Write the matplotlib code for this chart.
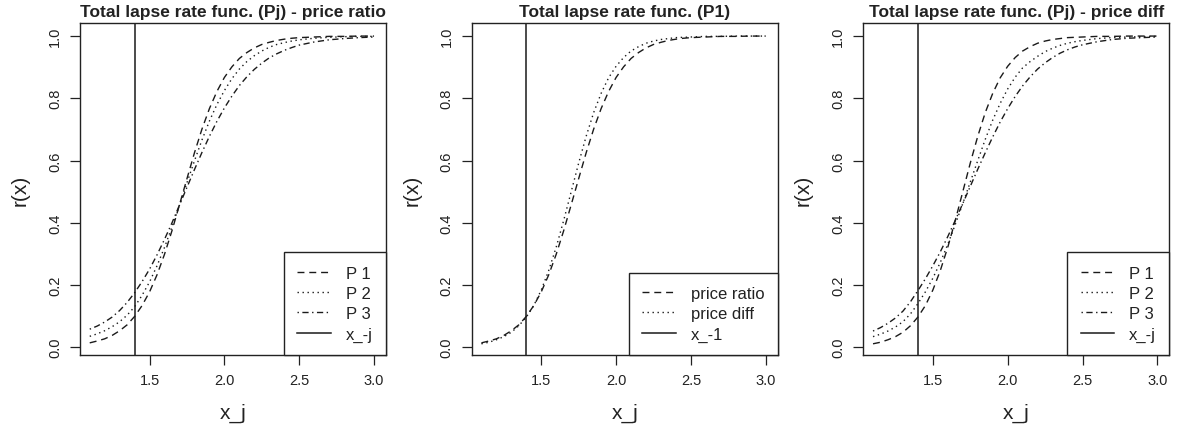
#!/usr/bin/env python3

import numpy as np
from matplotlib import pyplot as plt

plt.rcParams['font.family'] = ['Liberation Sans', 'DejaVu Sans']

# x grid (price ratio x_j)
x = [1.10, 1.15, 1.20, 1.25, 1.30, 1.35, 1.40, 1.45, 1.50, 1.55, 1.60, 1.65,
     1.70, 1.75, 1.80, 1.85, 1.90, 1.95, 2.00, 2.05, 2.10, 2.15, 2.20, 2.25,
     2.30, 2.35, 2.40, 2.45, 2.50, 2.60, 2.70, 2.80, 2.90, 3.00]

# price ratio model
ratio_p1 = [0.014, 0.020, 0.027, 0.038, 0.053, 0.072, 0.099, 0.134, 0.178, 0.233,
            0.299, 0.375, 0.458, 0.542, 0.625, 0.701, 0.767, 0.822, 0.867, 0.901,
            0.928, 0.947, 0.962, 0.973, 0.980, 0.986, 0.990, 0.993, 0.995, 0.997,
            0.999, 0.999, 1.000, 1.000]
ratio_p2 = [0.035, 0.043, 0.053, 0.066, 0.082, 0.103, 0.130, 0.167, 0.210, 0.262,
            0.321, 0.387, 0.457, 0.529, 0.599, 0.666, 0.727, 0.780, 0.825, 0.863,
            0.894, 0.918, 0.937, 0.952, 0.964, 0.973, 0.979, 0.984, 0.988, 0.993,
            0.996, 0.998, 0.999, 0.999]
ratio_p3 = [0.058, 0.068, 0.081, 0.097, 0.118, 0.144, 0.175, 0.211, 0.251, 0.297,
            0.347, 0.400, 0.457, 0.514, 0.571, 0.626, 0.678, 0.726, 0.769, 0.807,
            0.841, 0.869, 0.893, 0.913, 0.930, 0.943, 0.954, 0.963, 0.971, 0.981,
            0.988, 0.992, 0.995, 0.997]

# price diff model
diff_p1 = [0.011, 0.016, 0.024, 0.034, 0.048, 0.069, 0.097, 0.134, 0.184, 0.247,
           0.322, 0.408, 0.500, 0.592, 0.678, 0.754, 0.816, 0.866, 0.903, 0.931,
           0.952, 0.966, 0.977, 0.984, 0.989, 0.992, 0.995, 0.996, 0.997, 0.999,
           0.999, 1.000, 1.000, 1.000]
diff_p2 = [0.034, 0.042, 0.052, 0.065, 0.082, 0.107, 0.140, 0.178, 0.222, 0.273,
           0.331, 0.395, 0.462, 0.531, 0.600, 0.668, 0.730, 0.784, 0.830, 0.868,
           0.898, 0.918, 0.935, 0.950, 0.961, 0.970, 0.977, 0.982, 0.986, 0.992,
           0.995, 0.997, 0.998, 0.999]
diff_p3 = [0.052, 0.063, 0.077, 0.094, 0.116, 0.146, 0.182, 0.220, 0.262, 0.307,
           0.356, 0.408, 0.462, 0.517, 0.572, 0.625, 0.676, 0.724, 0.767, 0.806,
           0.840, 0.869, 0.894, 0.914, 0.931, 0.945, 0.956, 0.965, 0.972, 0.982,
           0.989, 0.993, 0.995, 0.997]

x_ref = 1.4

titles = ["Total lapse rate func. (Pj) - price ratio",
          "Total lapse rate func. (P1)",
          "Total lapse rate func. (Pj) - price diff"]

DASH = (0, (5.0, 3.5))
DOT = (0, (1.0, 2.6))
DOTDASH = (0, (1.0, 2.5, 4.5, 2.5))
col = '#1a1a1a'

fig = plt.figure(figsize=(11.8, 4.35), dpi=100)
lefts = [80, 471.7, 863.3]
axes = [fig.add_axes([l / 1180, (435 - 356) / 435, 306 / 1180, 332 / 435]) for l in lefts]

panels = [
    [(ratio_p1, DASH, "P 1"), (ratio_p2, DOT, "P 2"), (ratio_p3, DOTDASH, "P 3")],
    [(ratio_p1, DASH, "price ratio"), (diff_p1, DOT, "price diff")],
    [(diff_p1, DASH, "P 1"), (diff_p2, DOT, "P 2"), (diff_p3, DOTDASH, "P 3")],
]
vlabels = ["x_-j", "x_-1", "x_-j"]

for ax, series, title, vlab in zip(axes, panels, titles, vlabels):
    for ys, ls, lab in series:
        ax.plot(x, ys, color=col, lw=1.0, linestyle=ls, label=lab)
    ax.axvline(x_ref, color=col, lw=1.1, label=vlab)

    ax.set_xlim(1.035, 3.08)
    ax.set_ylim(-0.025, 1.042)
    ax.set_xticks([1.5, 2.0, 2.5, 3.0])
    ax.set_xticklabels(["1.5", "2.0", "2.5", "3.0"])
    ax.set_yticks([0.0, 0.2, 0.4, 0.6, 0.8, 1.0])
    ax.set_yticklabels(["0.0", "0.2", "0.4", "0.6", "0.8", "1.0"],
                       rotation=90, va='center')
    ax.tick_params(direction='out', length=7, width=0.9, labelsize=10.5,
                   colors='#222222', pad=6)
    for s in ax.spines.values():
        s.set_linewidth(1.0)
        s.set_color('#222222')

    ax.set_title(title, fontsize=12.5, fontweight='bold', pad=5, color='#222222')
    ax.set_xlabel("x_j", fontsize=15, color='#222222', va='center')
    ax.set_ylabel("r(x)", fontsize=15, color='#222222', va='center')
    ax.xaxis.set_label_coords(0.5, (356 - 413) / 332)
    ax.yaxis.set_label_coords((20 - 80) / 306, 0.5)

    leg = ax.legend(loc='lower right', borderaxespad=0, fontsize=12,
                    fancybox=False, edgecolor='#222222', framealpha=1,
                    handlelength=2.0, handletextpad=0.9, borderpad=0.8,
                    labelspacing=0.32)
    leg.get_frame().set_linewidth(1.0)
    for t in leg.get_texts():
        t.set_color('#222222')

fig.savefig("out.png", dpi=100)
